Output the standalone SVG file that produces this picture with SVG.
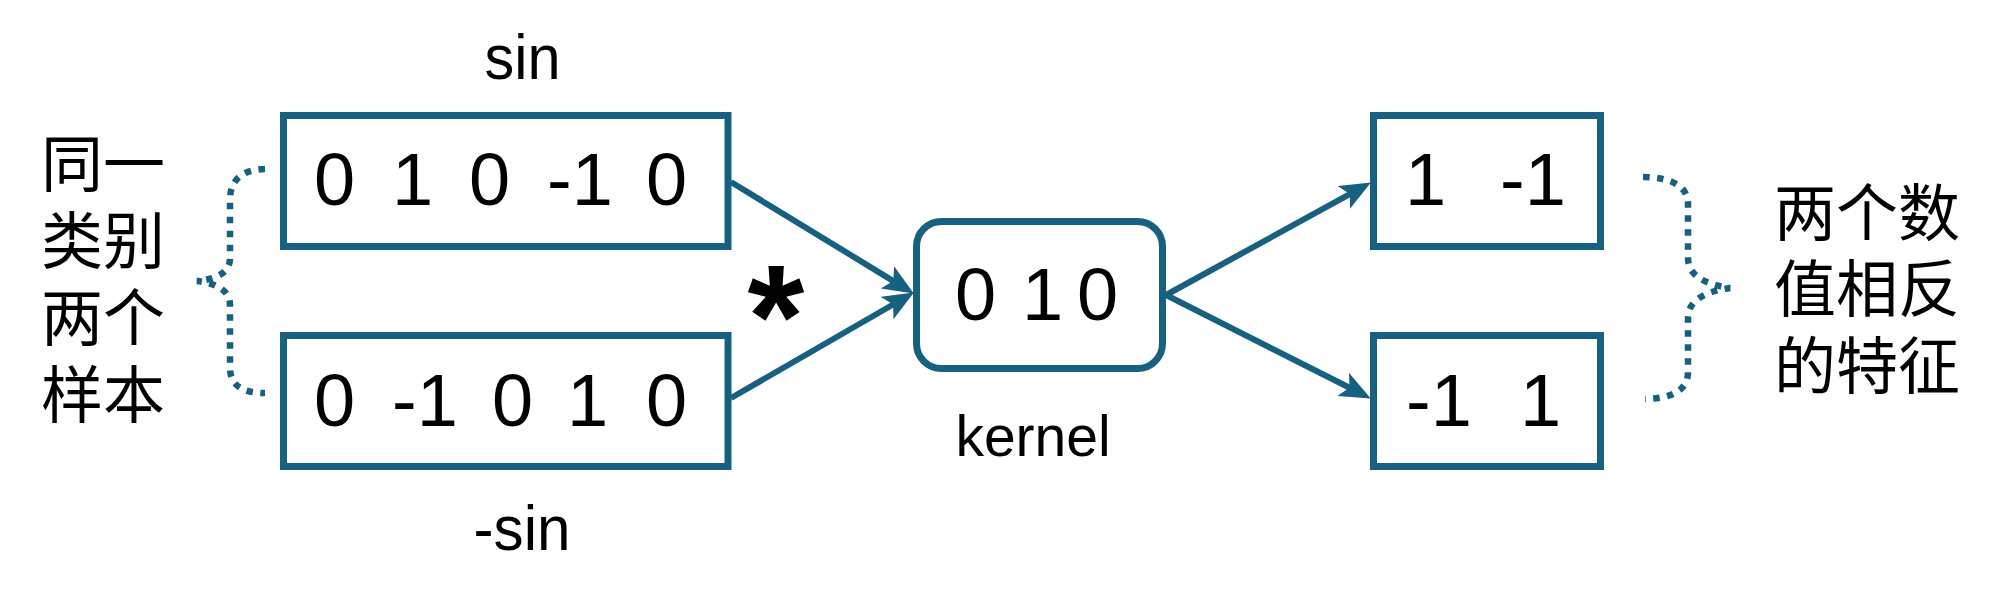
<svg xmlns="http://www.w3.org/2000/svg" width="2001" height="607" viewBox="0 0 2001 607">
  <defs>
    <marker id="arr" markerUnits="userSpaceOnUse" markerWidth="34" markerHeight="28" refX="10" refY="13" orient="auto">
      <path d="M0,0 L31,13 L0,26 L7,13 z" fill="#17607f"/>
    </marker>
  </defs>
  <style>
    .box { fill: #ffffff; stroke: #17607f; stroke-width: 7; }
    .num { font-family: "Liberation Sans", Arial, sans-serif; font-size: 74px; fill: #000; }
    .lbl { font-family: "Liberation Sans", Arial, sans-serif; fill: #000; }
    .cjk { font-family: "Liberation Sans", "Noto Sans CJK SC", sans-serif; font-size: 62px; fill: #000; text-anchor: middle; }
    .edge { fill: none; stroke: #17607f; stroke-width: 6; marker-end: url(#arr); }
    .brace { fill: none; stroke: #17607f; stroke-width: 6.5; stroke-dasharray: 6.5 7.5; }
  </style>
  <rect width="2001" height="607" fill="#ffffff"/>

  <g id="connectors">
    <line class="edge" x1="731" y1="182" x2="895.9" y2="282.6"/>
    <line class="edge" x1="731" y1="398" x2="895.7" y2="303"/>
    <line class="edge" x1="1166" y1="295" x2="1352.5" y2="192.6"/>
    <line class="edge" x1="1166" y1="295" x2="1352.1" y2="389"/>
  </g>

  <g id="brace-left">
    <path class="brace" d="M265,169 Q230,170 230,200 L230,258 Q230,278 197,281 Q230,285 230,305 L230,368 Q230,393 265,393"/>
  </g>
  <g id="brace-right">
    <path class="brace" d="M1643,177 Q1688,178 1688,204 L1688,258 Q1688,282 1730,288 Q1688,294 1688,318 L1688,372 Q1688,398 1645,399"/>
  </g>

  <g id="label-left">
    <text class="cjk" x="103" y="187">同一</text>
    <text class="cjk" x="103" y="264">类别</text>
    <text class="cjk" x="103" y="341">两个</text>
    <text class="cjk" x="103" y="418">样本</text>
  </g>

  <g id="sin-label">
    <text class="lbl" x="522.5" y="79" font-size="63" text-anchor="middle" textLength="76" lengthAdjust="spacingAndGlyphs">sin</text>
  </g>
  <g id="neg-sin-label">
    <text class="lbl" x="522" y="550" font-size="63" text-anchor="middle" textLength="97" lengthAdjust="spacingAndGlyphs">-sin</text>
  </g>

  <g id="box-sin">
    <rect class="box" x="283.5" y="115.5" width="444.5" height="131"/>
    <text class="num" y="205"><tspan x="314">0</tspan><tspan x="392">1</tspan><tspan x="469">0</tspan><tspan x="547">-1</tspan><tspan x="646">0</tspan></text>
  </g>
  <g id="box-negsin">
    <rect class="box" x="283.5" y="335.5" width="444.5" height="131"/>
    <text class="num" y="426"><tspan x="314">0</tspan><tspan x="392">-1</tspan><tspan x="492">0</tspan><tspan x="567">1</tspan><tspan x="646">0</tspan></text>
  </g>

  <g id="star">
    <text x="776" y="367" font-family="Liberation Sans, Arial, sans-serif" font-weight="bold" font-size="146" text-anchor="middle" fill="#000">*</text>
  </g>

  <g id="kernel">
    <rect class="box" x="916.5" y="221.5" width="246" height="147" rx="25" ry="25"/>
    <text class="num" y="320" font-size="75"><tspan x="955">0</tspan><tspan x="1022">1</tspan><tspan x="1077">0</tspan></text>
    <text class="lbl" x="1033" y="456" font-size="57" text-anchor="middle">kernel</text>
  </g>

  <g id="box-out1">
    <rect class="box" x="1373.5" y="115.5" width="227" height="131"/>
    <text class="num" y="205"><tspan x="1405">1</tspan><tspan x="1500">-1</tspan></text>
  </g>
  <g id="box-out2">
    <rect class="box" x="1373.5" y="335.5" width="227" height="131"/>
    <text class="num" y="426"><tspan x="1406">-1</tspan><tspan x="1520">1</tspan></text>
  </g>

  <g id="label-right">
    <text class="cjk" x="1867" y="236" font-size="63">两个数</text>
    <text class="cjk" x="1867" y="312" font-size="63">值相反</text>
    <text class="cjk" x="1867" y="389" font-size="63">的特征</text>
  </g>
</svg>
